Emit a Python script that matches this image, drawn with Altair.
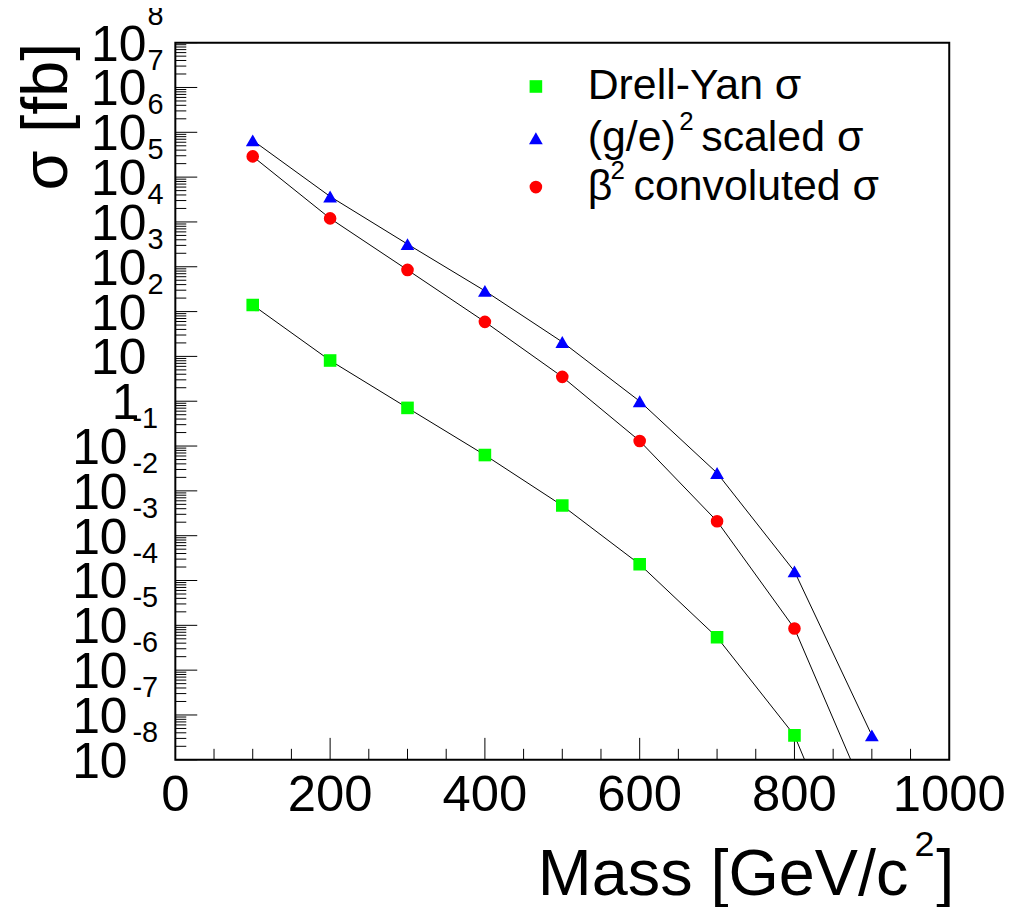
import altair as alt
import pandas as pd

# ---- data ----
mass = [100, 200, 300, 400, 500, 600, 700, 800, 900]
drell_yan = [140, 8.1, 0.71, 0.063, 4.7e-3, 2.3e-4, 5.4e-6, 3.5e-8, 2.5e-12]
scaled = [6.6e5, 3.7e4, 3.2e3, 2.9e2, 21, 1.0, 2.5e-2, 1.6e-4, 3.5e-8]
convoluted = [2.9e5, 1.2e4, 8.5e2, 59, 3.5, 0.13, 2.1e-3, 8.5e-6, 8e-10]

series_names = ["Drell-Yan σ", "(g/e)^2 scaled σ", "β^2 convoluted σ"]
series_values = [drell_yan, scaled, convoluted]
series_colors = ["#00ff00", "#0000ff", "#ff0000"]
series_shapes = ["square", "triangle-up", "circle"]
series_sizes = [160, 190, 160]

x_label_values = [0, 200, 400, 600, 800, 1000]
x_label_texts = ["0", "200", "400", "600", "800", "1000"]
x_major_ticks = [200, 400, 600, 800]
x_minor_ticks = [v for v in range(50, 1000, 50) if v % 200 != 0]

y_exponents_upper = [8, 7, 6, 5, 4, 3, 2, 1]
y_exponents_lower = [-1, -2, -3, -4, -5, -6, -7, -8]
y_sup_upper = ["8", "7", "6", "5", "4", "3", "2"]
y_sup_lower = ["-1", "-2", "-3", "-4", "-5", "-6", "-7", "-8"]
y_major_ticks = [10.0 ** k for k in range(-8, 9)]
y_minor_ticks = [m * 10.0 ** k for k in range(-8, 8) for m in range(2, 10)]

FONT = "Liberation Sans"
W, H = 777, 720

xscale = alt.Scale(domain=[0, 1000], nice=False, zero=False)
yscale = alt.Scale(type="log", domain=[1e-8, 1e8], nice=False)

layers = []

# tick marks drawn inside the frame
layers.append(alt.Chart(pd.DataFrame({"v": x_major_ticks})).mark_rule(color="black", strokeWidth=1).encode(
    x=alt.X("v:Q", scale=xscale, axis=None), y=alt.value(H), y2=alt.value(H - 22)))
layers.append(alt.Chart(pd.DataFrame({"v": x_minor_ticks})).mark_rule(color="black", strokeWidth=1).encode(
    x=alt.X("v:Q", scale=xscale, axis=None), y=alt.value(H), y2=alt.value(H - 11)))
layers.append(alt.Chart(pd.DataFrame({"v": y_major_ticks})).mark_rule(color="black", strokeWidth=1).encode(
    y=alt.Y("v:Q", scale=yscale, axis=None), x=alt.value(0), x2=alt.value(22)))
layers.append(alt.Chart(pd.DataFrame({"v": y_minor_ticks})).mark_rule(color="black", strokeWidth=1).encode(
    y=alt.Y("v:Q", scale=yscale, axis=None), x=alt.value(0), x2=alt.value(11)))

# data lines and markers
for name, vals, col, shp, sz in zip(series_names, series_values, series_colors, series_shapes, series_sizes):
    df = pd.DataFrame({"mass": mass, "sigma": vals})
    layers.append(alt.Chart(df).mark_line(color="black", strokeWidth=1, clip=True).encode(
        x=alt.X("mass:Q", scale=xscale, axis=None),
        y=alt.Y("sigma:Q", scale=yscale, axis=None)))
    layers.append(alt.Chart(df).mark_point(shape=shp, filled=True, size=sz, color=col, opacity=1, clip=True).encode(
        x=alt.X("mass:Q", scale=xscale, axis=None),
        y=alt.Y("sigma:Q", scale=yscale, axis=None)))

# x tick labels
layers.append(alt.Chart(pd.DataFrame({"v": x_label_values, "t": x_label_texts})).mark_text(
    font=FONT, fontSize=51, align="center", baseline="alphabetic", color="black").encode(
    x=alt.X("v:Q", scale=xscale, axis=None), y=alt.value(H + 51), text="t:N"))

# y tick labels (ROOT-style, exponents shifted)
layers.append(alt.Chart(pd.DataFrame({"v": [10.0 ** k for k in y_exponents_upper], "t": ["10"] * 8})).mark_text(
    font=FONT, fontSize=50, align="right", baseline="alphabetic", dy=18, color="black").encode(
    y=alt.Y("v:Q", scale=yscale, axis=None), x=alt.value(-29), text="t:N"))
layers.append(alt.Chart(pd.DataFrame({"v": [1.0], "t": ["1"]})).mark_text(
    font=FONT, fontSize=50, align="right", baseline="alphabetic", dy=18, color="black").encode(
    y=alt.Y("v:Q", scale=yscale, axis=None), x=alt.value(-36), text="t:N"))
layers.append(alt.Chart(pd.DataFrame({"v": [10.0 ** k for k in y_exponents_lower], "t": ["10"] * 8})).mark_text(
    font=FONT, fontSize=50, align="right", baseline="alphabetic", dy=18, color="black").encode(
    y=alt.Y("v:Q", scale=yscale, axis=None), x=alt.value(-48), text="t:N"))
layers.append(alt.Chart(pd.DataFrame({"v": [10.0 ** k for k in y_exponents_upper[:7]], "t": y_sup_upper})).mark_text(
    font=FONT, fontSize=29, align="left", baseline="alphabetic", dy=-18, color="black").encode(
    y=alt.Y("v:Q", scale=yscale, axis=None), x=alt.value(-28), text="t:N"))
layers.append(alt.Chart(pd.DataFrame({"v": [10.0 ** k for k in y_exponents_lower], "t": y_sup_lower})).mark_text(
    font=FONT, fontSize=29, align="left", baseline="alphabetic", dy=-18, color="black").encode(
    y=alt.Y("v:Q", scale=yscale, axis=None), x=alt.value(-43), text="t:N"))

# axis titles
def label(text, x, y, size, align="left", angle=0, baseline="alphabetic"):
    return alt.Chart(pd.DataFrame({"t": [text]})).mark_text(
        font=FONT, fontSize=size, align=align, baseline=baseline, angle=angle, color="black").encode(
        x=alt.value(x), y=alt.value(y), text="t:N")

layers.append(label("Mass [GeV/c", 736, 856, 65, align="right"))
layers.append(label("2", 742, 817, 36))
layers.append(label("]", 764, 856, 65))
layers.append(label("σ [fb]", -109, 0, 65, align="right", angle=270))

# legend
leg_y = [44, 96, 145]
for i in range(3):
    layers.append(alt.Chart(pd.DataFrame({"n": [series_names[i]]})).mark_point(
        shape=series_shapes[i], filled=True, size=series_sizes[i], color=series_colors[i], opacity=1).encode(
        x=alt.value(362), y=alt.value(leg_y[i])))

layers.append(label("Drell-Yan σ", 414, leg_y[0], 43, baseline="middle"))
layers.append(label("(g/e)", 414, leg_y[1], 43, baseline="middle"))
layers.append(label("2", 506, leg_y[1] - 16, 26, baseline="middle"))
layers.append(label("scaled σ", 528, leg_y[1], 43, baseline="middle"))
layers.append(label("β", 414, leg_y[2], 43, baseline="middle"))
layers.append(label("2", 437, leg_y[2] - 16, 26, baseline="middle"))
layers.append(label("convoluted σ", 460, leg_y[2], 43, baseline="middle"))

chart = alt.layer(*layers).properties(
    width=W, height=H,
    padding={"left": 168, "top": 33, "right": 60, "bottom": 146},
    autosize=alt.AutoSizeParams(type="none"),
    background="white",
).configure_view(stroke="black", strokeWidth=2)

chart.save("out.html", embed_options={"renderer": "svg", "actions": False})
